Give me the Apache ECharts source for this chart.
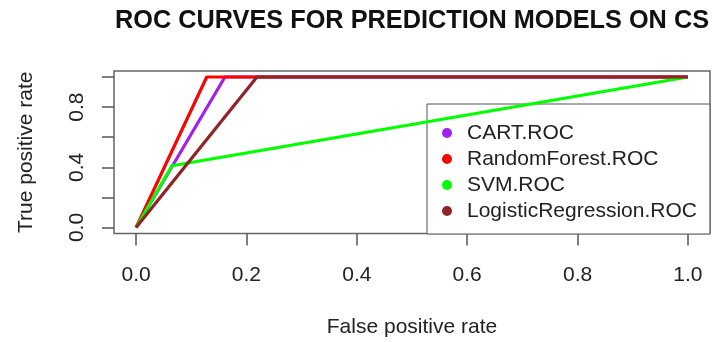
<!DOCTYPE html>
<html>
<head>
<meta charset="utf-8">
<script src="https://cdn.jsdelivr.net/npm/echarts@6/dist/echarts.min.js"></script>
<style>
html,body{margin:0;padding:0;background:#fff;}
#chart{width:716px;height:342px;}
</style>
</head>
<body>
<div id="chart"></div>
<script>
const titleText = 'ROC CURVES FOR PREDICTION MODELS ON CS';
const xAxisName = 'False positive rate';
const yAxisName = 'True positive rate';
const modelNames = ['CART.ROC', 'RandomForest.ROC', 'SVM.ROC', 'LogisticRegression.ROC'];
const modelColors = ['#A020F0', '#FF0000', '#00FF00', '#8F2424'];
const cartFPR = [0, 0.161, 1];
const cartTPR = [0, 1, 1];
const rfFPR = [0, 0.128, 1];
const rfTPR = [0, 1, 1];
const svmFPR = [0, 0.065, 1];
const svmTPR = [0, 0.41, 1];
const lrFPR = [0, 0.219, 1];
const lrTPR = [0, 1, 1];
const xTicks = [0, 0.2, 0.4, 0.6, 0.8, 1.0];
const yTicks = [0, 0.2, 0.4, 0.6, 0.8, 1.0];
const yTickLabels = [0, 0.4, 0.8];

const FONT = "'Liberation Sans', Arial, Helvetica, sans-serif";
const fprs = [cartFPR, rfFPR, svmFPR, lrFPR];
const tprs = [cartTPR, rfTPR, svmTPR, lrTPR];

const series = modelNames.map((name, i) => ({
  name: name,
  type: 'line',
  data: fprs[i].map((x, j) => [x, tprs[i][j]]),
  showSymbol: false,
  symbol: 'none',
  lineStyle: { width: 3.2, color: modelColors[i] },
  itemStyle: { color: modelColors[i] },
  z: 2 + i
}));

const chart = echarts.init(document.getElementById('chart'), null, { renderer: 'canvas' });
chart.setOption({
  animation: false,
  backgroundColor: '#ffffff',
  title: {
    text: titleText,
    left: 110,
    top: 4,
    textStyle: { fontFamily: FONT, fontWeight: 'bold', fontSize: 25.3, color: '#111' }
  },
  legend: {
    orient: 'vertical',
    left: 427,
    top: 104,
    data: modelNames,
    icon: 'circle',
    itemWidth: 30,
    itemHeight: 10,
    itemGap: 5,
    padding: [18.5, 13, 12.5, 15],
    backgroundColor: '#ffffff',
    borderColor: '#555',
    borderWidth: 1,
    borderRadius: 0,
    selectedMode: false,
    textStyle: { fontFamily: FONT, fontSize: 21, color: '#222', padding: [0, 0, 0, 0] }
  },
  grid: {
    left: 114, right: 6, top: 71, bottom: 108.5,
    show: true, borderColor: '#666', borderWidth: 1.5, backgroundColor: 'transparent'
  },
  xAxis: {
    type: 'value', min: -0.04, max: 1.04,
    name: xAxisName, nameLocation: 'middle', nameGap: 83,
    nameTextStyle: { fontFamily: FONT, fontSize: 21, color: '#222' },
    axisLine: { show: false, onZero: false },
    splitLine: { show: false },
    axisTick: { show: true, inside: false, length: 12, customValues: xTicks, lineStyle: { color: '#555', width: 1.5 } },
    axisLabel: {
      customValues: xTicks, margin: 31,
      formatter: v => v.toFixed(1),
      fontFamily: FONT, fontSize: 21, color: '#222'
    }
  },
  yAxis: {
    type: 'value', min: -0.04, max: 1.04,
    name: yAxisName, nameLocation: 'middle', nameGap: 77, nameRotate: 90,
    nameTextStyle: { fontFamily: FONT, fontSize: 21, color: '#222' },
    axisLine: { show: false, onZero: false },
    splitLine: { show: false },
    axisTick: { show: true, inside: false, length: 12, customValues: yTicks, lineStyle: { color: '#555', width: 1.5 } },
    axisLabel: {
      customValues: yTickLabels, margin: 26, rotate: 90,
      formatter: v => v.toFixed(1),
      fontFamily: FONT, fontSize: 21, color: '#222'
    }
  },
  series: series
});
</script>
</body>
</html>
